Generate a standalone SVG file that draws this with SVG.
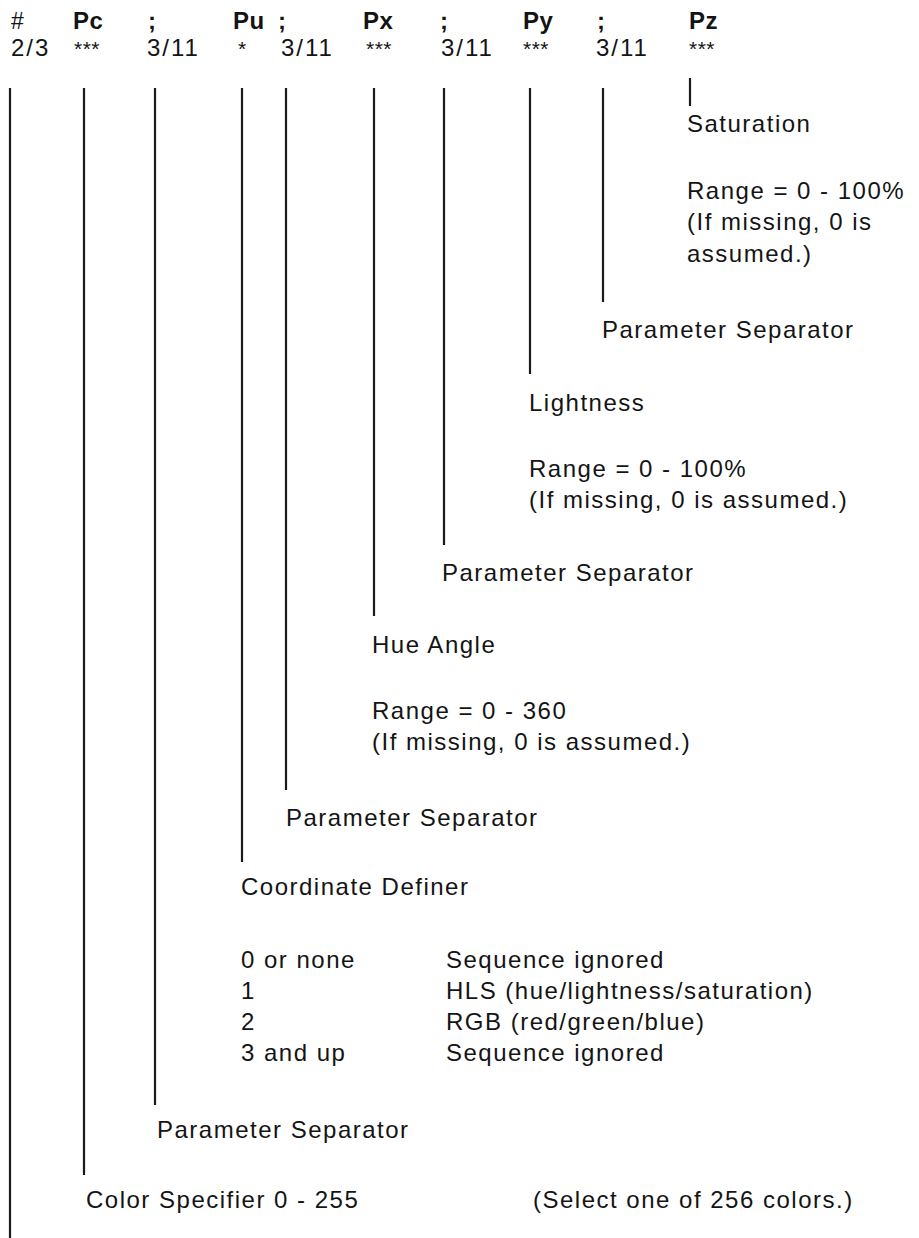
<svg xmlns="http://www.w3.org/2000/svg" width="919" height="1238" viewBox="0 0 919 1238">
<style>
  text { font-family: "Liberation Sans", Arial, Helvetica, sans-serif; fill: #141414; }
  .h { font-size: 24px; font-weight: bold; letter-spacing: 0.5px; }
  .hr { font-size: 23px; }
  .v { font-size: 24px; letter-spacing: 2px; }
  .ast { font-size: 21px; letter-spacing: 0.5px; }
  .t { font-size: 24px; letter-spacing: 1.5px; }
  #connectors line { stroke: #1a1a1a; stroke-width: 2.2; stroke-linecap: butt; }
</style>
<rect width="919" height="1238" fill="#ffffff"/>

<g id="connectors">
  <line x1="10" y1="88" x2="10" y2="1238"/>
  <line x1="84" y1="88" x2="84" y2="1175"/>
  <line x1="155" y1="88" x2="155" y2="1105"/>
  <line x1="242" y1="88" x2="242" y2="862"/>
  <line x1="286" y1="88" x2="286" y2="790"/>
  <line x1="374" y1="88" x2="374" y2="616"/>
  <line x1="444" y1="88" x2="444" y2="545"/>
  <line x1="530" y1="88" x2="530" y2="374"/>
  <line x1="603" y1="88" x2="603" y2="302"/>
  <line x1="690" y1="78" x2="690" y2="106"/>
</g>

<g id="node-intro">
  <text class="hr" x="11" y="29">#</text>
  <text class="v" x="11" y="56">2/3</text>
</g>

<g id="node-pc">
  <text class="h" x="73" y="29">Pc</text>
  <text class="ast" x="74" y="56">***</text>
  <text class="t" x="86" y="1208">Color Specifier 0 - 255</text>
  <text class="t" x="533" y="1208">(Select one of 256 colors.)</text>
</g>

<g id="node-sep1">
  <text class="h" x="148" y="29">;</text>
  <text class="v" x="147" y="56">3/11</text>
  <text class="t" x="157" y="1138">Parameter Separator</text>
</g>

<g id="node-pu">
  <text class="h" x="233" y="29">Pu</text>
  <text class="ast" x="238" y="56">*</text>
  <text class="t" x="241" y="895">Coordinate Definer</text>
  <text class="t" x="241" y="968">0 or none</text>
  <text class="t" x="446" y="968">Sequence ignored</text>
  <text class="t" x="241" y="999">1</text>
  <text class="t" x="446" y="999">HLS (hue/lightness/saturation)</text>
  <text class="t" x="241" y="1030">2</text>
  <text class="t" x="446" y="1030">RGB (red/green/blue)</text>
  <text class="t" x="241" y="1061">3 and up</text>
  <text class="t" x="446" y="1061">Sequence ignored</text>
</g>

<g id="node-sep2">
  <text class="h" x="278" y="29">;</text>
  <text class="v" x="281" y="56">3/11</text>
  <text class="t" x="286" y="826">Parameter Separator</text>
</g>

<g id="node-px">
  <text class="h" x="363" y="29">Px</text>
  <text class="ast" x="366" y="56">***</text>
  <text class="t" x="372" y="653">Hue Angle</text>
  <text class="t" x="372" y="719">Range = 0 - 360</text>
  <text class="t" x="372" y="750">(If missing, 0 is assumed.)</text>
</g>

<g id="node-sep3">
  <text class="h" x="440" y="29">;</text>
  <text class="v" x="441" y="56">3/11</text>
  <text class="t" x="442" y="581">Parameter Separator</text>
</g>

<g id="node-py">
  <text class="h" x="523" y="29">Py</text>
  <text class="ast" x="523" y="56">***</text>
  <text class="t" x="529" y="411">Lightness</text>
  <text class="t" x="529" y="477">Range = 0 - 100%</text>
  <text class="t" x="529" y="508">(If missing, 0 is assumed.)</text>
</g>

<g id="node-sep4">
  <text class="h" x="597" y="29">;</text>
  <text class="v" x="596" y="56">3/11</text>
  <text class="t" x="602" y="338">Parameter Separator</text>
</g>

<g id="node-pz">
  <text class="h" x="689" y="29">Pz</text>
  <text class="ast" x="689" y="56">***</text>
  <text class="t" x="687" y="132">Saturation</text>
  <text class="t" x="687" y="199">Range = 0 - 100%</text>
  <text class="t" x="687" y="230">(If missing, 0 is</text>
  <text class="t" x="687" y="262">assumed.)</text>
</g>
</svg>
